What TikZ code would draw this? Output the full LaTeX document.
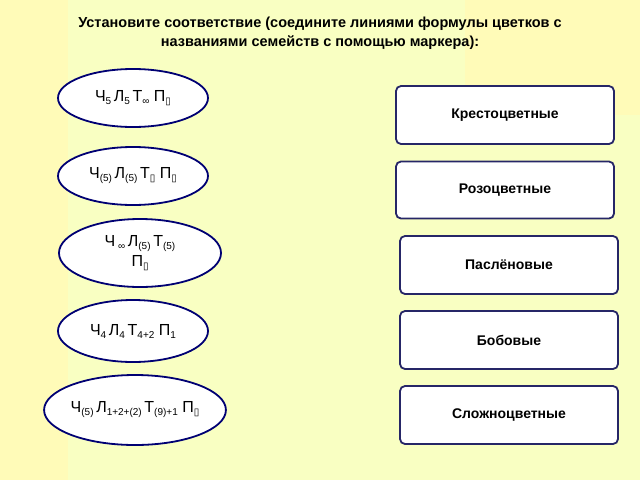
\documentclass[tikz,border=0pt]{standalone}
\usepackage{fontspec}
\setmainfont{Liberation Sans}
\newfontfamily\symf{DejaVu Sans}
\usetikzlibrary{shapes.geometric}
\newcommand{\bx}{\lo{\symf ▯}}
\newcommand{\lo}[1]{\raisebox{-3pt}{\fontsize{10}{10}\selectfont #1}}
\begin{document}
\begin{tikzpicture}[x=1pt,y=-1pt,
  oval/.style={ellipse,draw=blue!45!black,line width=1.8pt,fill=white,inner sep=0pt,font=\fontsize{16}{20}\selectfont},
  fam/.style={rectangle,rounded corners=5pt,draw=blue!30!black!85,line width=1.8pt,fill=white,inner sep=0pt,font=\bfseries\fontsize{14}{16}\selectfont}]
\useasboundingbox (0,0) rectangle (640,480);
\fill[yellow!28] (0,0) rectangle (640,480);
\fill[green!10!yellow!24] (68,0) rectangle (465,115);
\fill[green!10!yellow!24] (68,115) rectangle (640,480);
\node[font=\bfseries\fontsize{14.5}{19}\selectfont,align=center] (t) at (320,33) {Установите соответствие (соедините линиями формулы цветков с\\названиями семейств с помощью маркера):};
\node[oval,minimum width=150,minimum height=58] (e1) at (133,98) {Ч\lo{5}\,Л\lo{5}\,Т\lo{∞} П\bx};
\node[oval,minimum width=150,minimum height=58] (e2) at (133,176) {Ч\lo{(5)}\,Л\lo{(5)}\,Т\bx\ П\bx};
\node[oval,minimum width=162,minimum height=68,align=center] (e3) at (140,253) {Ч\,\lo{∞}\,Л\lo{(5)}\,Т\lo{(5)}\\П\bx};
\node[oval,minimum width=150,minimum height=62] (e4) at (133,331) {Ч\lo{4}\,Л\lo{4}\,Т\lo{4+2} П\lo{1}};
\node[oval,minimum width=180,minimum height=70] (e5) at (135,410) {Ч\lo{(5)}\,Л\lo{1+2+(2)}\,Т\lo{(9)+1} П\bx};
\node[fam,minimum width=218,minimum height=58] (b1) at (505,115) {Крестоцветные};
\node[fam,minimum width=218,minimum height=57] (b2) at (505,190) {Розоцветные};
\node[fam,minimum width=218,minimum height=58] (b3) at (509,265) {Паслёновые};
\node[fam,minimum width=218,minimum height=58] (b4) at (509,340) {Бобовые};
\node[fam,minimum width=218,minimum height=58] (b5) at (509,415) {Сложноцветные};
\end{tikzpicture}
\end{document}
